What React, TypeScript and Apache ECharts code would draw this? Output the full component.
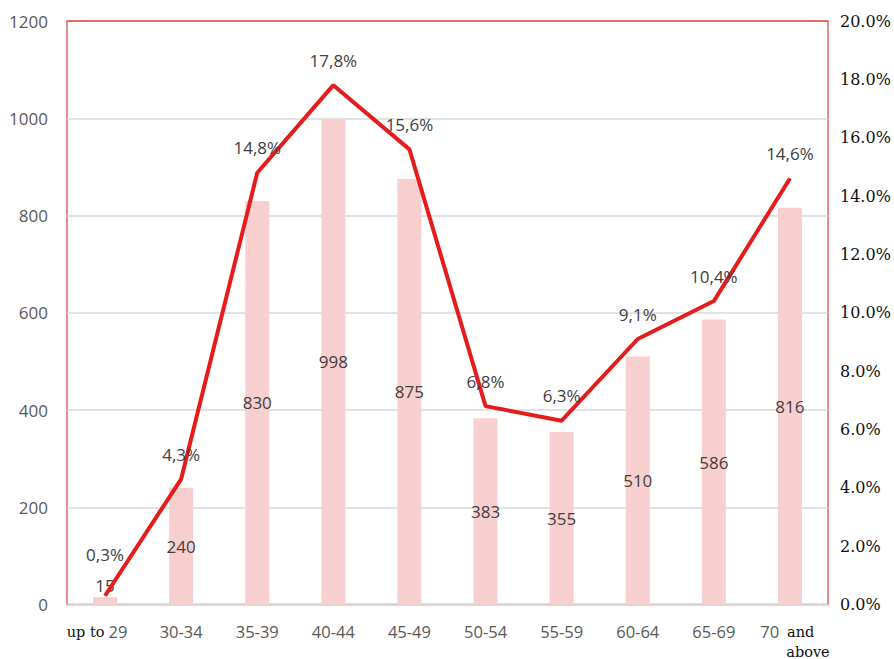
import React, { useEffect, useRef } from "react";
import * as echarts from "echarts";

const categories = ["up to 29", "30-34", "35-39", "40-44", "45-49", "50-54", "55-59", "60-64", "65-69", "70 and above"];
const counts = [15, 240, 830, 998, 875, 383, 355, 510, 586, 816];
const shares = [0.3, 4.3, 14.8, 17.8, 15.6, 6.8, 6.3, 9.1, 10.4, 14.6];
const leftTicks = { min: 0, max: 1200, interval: 200 };
const rightTicks = { min: 0, max: 20, interval: 2 };

const SANS = "Open Sans";
const SERIF = "DejaVu Serif";

export default function App() {
  const ref = useRef<HTMLDivElement>(null);
  useEffect(() => {
    if (!ref.current) return;
    const chart = echarts.init(ref.current, null, { renderer: "svg" });
    const option = {
      animation: false,
      backgroundColor: "#ffffff",
      grid: {
        left: 67,
        right: 66,
        top: 21,
        bottom: 53,
        show: true,
        borderColor: "#e06666",
        borderWidth: 1.5,
        backgroundColor: "transparent",
      },
      xAxis: {
        type: "category",
        data: categories,
        axisLine: { show: true, lineStyle: { color: "#d9d9d9", width: 1.5 } },
        axisTick: { show: false },
        axisLabel: {
          interval: 0,
          margin: 17,
          color: "#595959",
          fontFamily: SANS,
          fontSize: 16,
          formatter: (v: string) => {
            if (v === "up to 29") return "{t|up to}{g| }{s|29}{e| }";
            if (v === "70 and above") return "{l| }{s|70}{g2| }{t|and}\n{l| }{p| }{t|above}";
            return "{s|" + v + "}";
          },
          rich: {
            s: { fontFamily: SANS, fontSize: 16.5, color: "#595959", align: "left", lineHeight: 20 },
            t: { fontFamily: SERIF, fontSize: 14.5, color: "#111111", align: "left", lineHeight: 20 },
            g: { width: 4, align: "left", lineHeight: 20, fontSize: 14 },
            g2: { width: 8, align: "left", lineHeight: 20, fontSize: 14 },
            e: { width: 16, align: "left", lineHeight: 20, fontSize: 14 },
            l: { width: 10, align: "left", lineHeight: 20, fontSize: 14 },
            p: { width: 26, align: "left", lineHeight: 20, fontSize: 14 },
          },
        },
      },
      yAxis: [
        {
          type: "value",
          min: leftTicks.min,
          max: leftTicks.max,
          interval: leftTicks.interval,
          axisLine: { show: false },
          axisTick: { show: false },
          axisLabel: {
            margin: 19,
            color: "#595959",
            fontFamily: SANS,
            fontSize: 17,
            formatter: (v: number) => String(v),
          },
          splitLine: {
            show: true,
            lineStyle: {
              color: ["#d9d9d9", "#d9d9d9", "#d9d9d9", "#d9d9d9", "#d9d9d9", "#d9d9d9", "#e06666"],
              width: 1.5,
            },
          },
        },
        {
          type: "value",
          min: rightTicks.min,
          max: rightTicks.max,
          interval: rightTicks.interval,
          position: "right",
          axisLine: { show: false },
          axisTick: { show: false },
          splitLine: { show: false },
          axisLabel: {
            margin: 12,
            color: "#111111",
            fontFamily: SERIF,
            fontSize: 16,
            formatter: (v: number) => v.toFixed(1) + "%",
          },
        },
      ],
      series: [
        {
          type: "bar",
          yAxisIndex: 0,
          barWidth: 24,
          itemStyle: { color: "#f8cfcf" },
          label: {
            show: true,
            position: "inside",
            color: "#404040",
            fontFamily: SANS,
            fontSize: 17,
          },
          data: counts.map((c, i) =>
            i === 0 ? { value: c, label: { position: "top", distance: 3 } } : c
          ),
          z: 1,
        },
        {
          type: "line",
          yAxisIndex: 1,
          symbol: "circle",
          symbolSize: 1,
          showSymbol: true,
          itemStyle: { color: "#e41c1c" },
          lineStyle: { color: "#e41c1c", width: 4 },
          label: {
            show: true,
            position: "top",
            distance: 16,
            color: "#404040",
            fontFamily: SANS,
            fontSize: 17,
            formatter: (p: any) => Number(p.value).toFixed(1).replace(".", ",") + "%",
          },
          data: shares.map((s, i) =>
            i === 0 ? { value: s, label: { offset: [0, -16] } } : s
          ),
          z: 3,
        },
      ],
    };
    chart.setOption(option as any);
    return () => chart.dispose();
  }, []);
  return (
    <div
      ref={ref}
      style={{ position: "fixed", left: 0, top: 0, width: 894, height: 659 }}
    />
  );
}
